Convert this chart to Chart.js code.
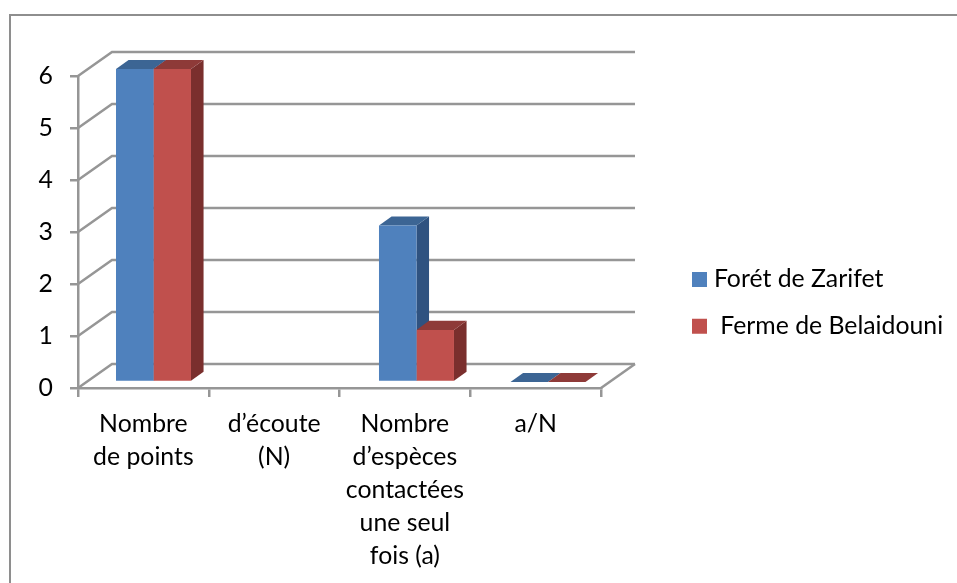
<!DOCTYPE html>
<html>
<head>
<meta charset="utf-8">
<title>Forêt de Zarifet / Ferme de Belaidouni</title>
<script src="https://cdn.jsdelivr.net/npm/chart.js@4/dist/chart.umd.min.js"></script>
<style>
    html, body { margin: 0; padding: 0; background: #fff; }
    #frame {
        position: absolute; left: 9px; top: 14px; right: -4px; bottom: -4px;
        border: 2px solid #8e8e8e;
    }
    #wrap { position: absolute; left: 0; top: 0; width: 957px; height: 583px; }
</style>
</head>
<body>
<div id="frame"></div>
<div id="wrap"><canvas id="chart" width="957" height="583"></canvas></div>
<script>
const categories = [
    ['Nombre', 'de points'],
    ['d\u2019écoute', '(N)'],
    ['Nombre', 'd\u2019espèces', 'contactées', 'une seul', 'fois (a)'],
    'a/N'
];
const seriesNames = ['Forét de Zarifet', ' Ferme de Belaidouni'];
const foretValues = [6, null, 3, 0];
const fermeValues = [6, null, 1, 0];
const valueTicks = [0, 1, 2, 3, 4, 5, 6];

const gridColor = '#969696';
const gridWidth = 2.5;
const fontFamily = 'Lato, "Open Sans", sans-serif';
const fontSize = 24.8;
const wallDepth = { x: 34, y: 24 };
const barDepth = { x: 12.5, y: 9 };

// colours of the three visible faces of each column
const faces = [
    { front: '#4f81bd', top: '#3c6594', side: '#2f5280' },
    { front: '#c0504d', top: '#8e3a38', side: '#7a2f2d' }
];

// the columns stand a little inside the floor, not on the front axis
function applyBarPlane(ctx) {
    ctx.transform(1.0057, 0, 0, 1.0032, 9.3, -7.2);
}

const wallPlugin = {
    id: 'wall',
    beforeDatasetsDraw(chart) {
        const ctx = chart.ctx;
        const x = chart.scales.x;
        const y = chart.scales.y;
        ctx.save();
        ctx.strokeStyle = gridColor;
        ctx.lineWidth = gridWidth;
        y.ticks.forEach(function (t) {
            const py = y.getPixelForValue(t.value);
            ctx.beginPath();
            ctx.moveTo(x.left, py);
            ctx.lineTo(x.left + wallDepth.x, py - wallDepth.y);
            ctx.lineTo(x.right + wallDepth.x, py - wallDepth.y);
            ctx.stroke();
        });
        ctx.beginPath();
        ctx.moveTo(x.right, y.bottom);
        ctx.lineTo(x.right + wallDepth.x, y.bottom - wallDepth.y);
        ctx.stroke();
        ctx.restore();
    }
};

// side and top faces go down first, left series then right, so the
// right column's front hides the part of the left side it stands against
const columnPlugin = {
    id: 'columns',
    beforeDatasetsDraw(chart) {
        const ctx = chart.ctx;
        ctx.save();
        applyBarPlane(ctx);
        chart.data.datasets.forEach(function (d, i) {
            chart.getDatasetMeta(i).data.forEach(function (bar, n) {
                if (d.data[n] === null) return;
                const p = bar.getProps(['x', 'y', 'base', 'width'], true);
                const l = p.x - p.width / 2;
                const r = p.x + p.width / 2;
                ctx.fillStyle = faces[i].side;
                ctx.beginPath();
                ctx.moveTo(r, p.y);
                ctx.lineTo(r + barDepth.x, p.y - barDepth.y);
                ctx.lineTo(r + barDepth.x, p.base - barDepth.y);
                ctx.lineTo(r, p.base);
                ctx.closePath();
                ctx.fill();
                ctx.fillStyle = faces[i].top;
                ctx.beginPath();
                ctx.moveTo(l, p.y);
                ctx.lineTo(l + barDepth.x, p.y - barDepth.y);
                ctx.lineTo(r + barDepth.x, p.y - barDepth.y);
                ctx.lineTo(r, p.y);
                ctx.closePath();
                ctx.fill();
            });
        });
        ctx.restore();
    },
    beforeDatasetDraw(chart) {
        chart.ctx.save();
        applyBarPlane(chart.ctx);
    },
    afterDatasetDraw(chart) {
        chart.ctx.restore();
    }
};

// the legend floats right of the plot instead of taking layout room
const legendPlugin = {
    id: 'legendPlace',
    afterLayout(chart) {
        const legend = chart.legend;
        legend.left = 675.5;
        legend.right = 957;
        legend.top = 245;
        legend.bottom = 420;
    }
};

new Chart('chart', {
    type: 'bar',
    data: {
        labels: categories,
        datasets: [
            { label: seriesNames[0], data: foretValues, backgroundColor: faces[0].front, clip: false },
            { label: seriesNames[1], data: fermeValues, backgroundColor: faces[1].front, clip: false }
        ]
    },
    plugins: [wallPlugin, columnPlugin, legendPlugin],
    options: {
        responsive: false,
        animation: false,
        layout: { padding: { left: 0, top: 76, right: 356, bottom: 0 } },
        datasets: { bar: { categoryPercentage: 0.5703, barPercentage: 1 } },
        plugins: {
            tooltip: { enabled: false },
            legend: {
                position: 'chartArea',
                align: 'start',
                labels: {
                    color: '#000',
                    font: { family: fontFamily, size: fontSize },
                    boxWidth: 4,
                    boxHeight: 4,
                    padding: 22,
                    // a thick border keeps the swatch square while the text sits close to it
                    generateLabels(chart) {
                        return chart.data.datasets.map(function (d, i) {
                            return {
                                text: d.label,
                                fillStyle: faces[i].front,
                                strokeStyle: faces[i].front,
                                lineWidth: 11,
                                datasetIndex: i
                            };
                        });
                    }
                }
            }
        },
        scales: {
            x: {
                afterFit(s) { s.height = 195; },
                grid: { drawOnChartArea: false, color: gridColor, lineWidth: gridWidth, tickLength: 9 },
                border: { color: gridColor, width: gridWidth },
                ticks: {
                    color: '#000',
                    padding: 11,
                    autoSkip: false,
                    maxRotation: 0,
                    font: { family: fontFamily, size: fontSize, lineHeight: 1.33 }
                }
            },
            y: {
                min: 0,
                max: 6,
                afterFit(s) { s.width = 78; },
                afterBuildTicks(s) { s.ticks = valueTicks.map(function (v) { return { value: v }; }); },
                grid: { drawOnChartArea: false, color: gridColor, lineWidth: gridWidth, tickLength: 8 },
                border: { color: gridColor, width: gridWidth },
                ticks: {
                    color: '#000',
                    padding: 17,
                    font: { family: fontFamily, size: fontSize }
                }
            }
        }
    }
});
</script>
</body>
</html>
